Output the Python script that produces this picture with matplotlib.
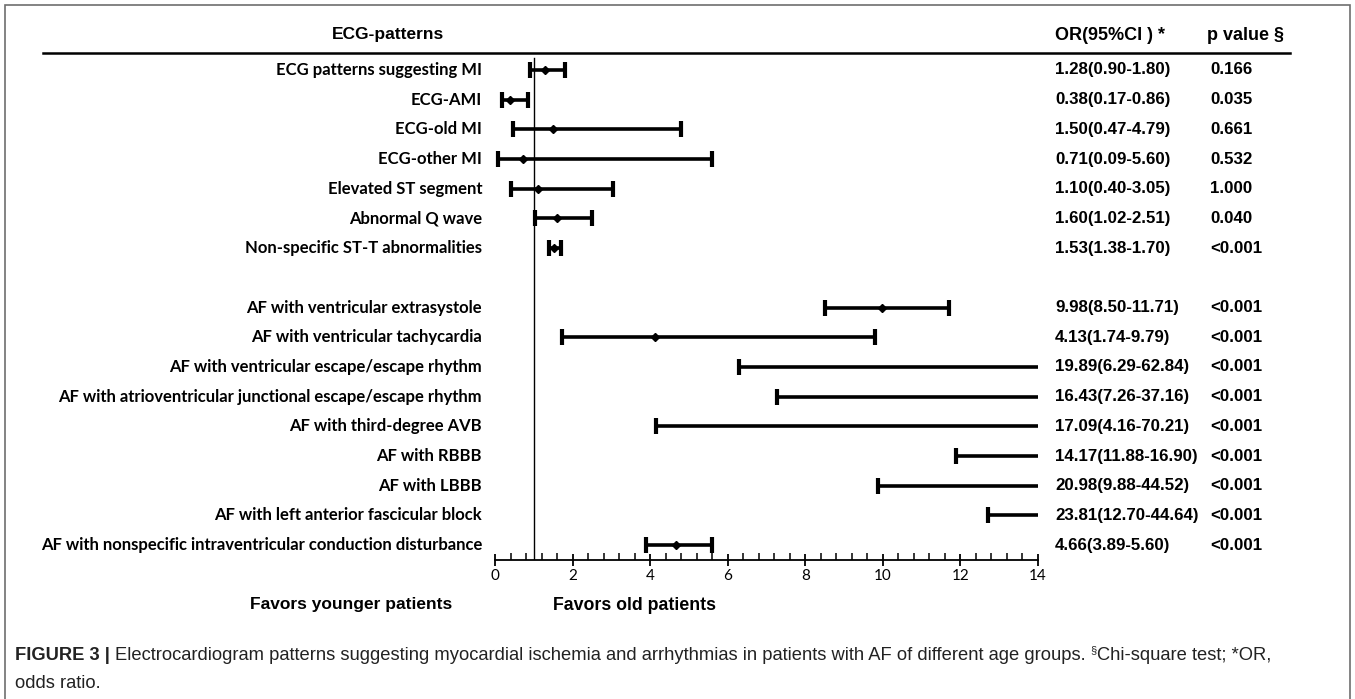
import matplotlib.pyplot as plt
from matplotlib.patches import Rectangle
from matplotlib.lines import Line2D
from matplotlib.transforms import blended_transform_factory

# ECG patterns, odds ratios and 95% CI
labels = [
    "ECG patterns suggesting MI",
    "ECG-AMI",
    "ECG-old MI",
    "ECG-other MI",
    "Elevated ST segment",
    "Abnormal Q wave",
    "Non-specific ST-T abnormalities",
    "AF with ventricular extrasystole",
    "AF with ventricular tachycardia",
    "AF with ventricular escape/escape rhythm",
    "AF with atrioventricular junctional escape/escape rhythm",
    "AF with third-degree AVB",
    "AF with RBBB",
    "AF with LBBB",
    "AF with left anterior fascicular block",
    "AF with nonspecific intraventricular conduction disturbance",
]
or_vals = [1.28, 0.38, 1.50, 0.71, 1.10, 1.60, 1.53,
           9.98, 4.13, 19.89, 16.43, 17.09, 14.17, 20.98, 23.81, 4.66]
ci_low = [0.90, 0.17, 0.47, 0.09, 0.40, 1.02, 1.38,
          8.50, 1.74, 6.29, 7.26, 4.16, 11.88, 9.88, 12.70, 3.89]
ci_high = [1.80, 0.86, 4.79, 5.60, 3.05, 2.51, 1.70,
           11.71, 9.79, 62.84, 37.16, 70.21, 16.90, 44.52, 44.64, 5.60]
p_vals = ["0.166", "0.035", "0.661", "0.532", "1.000", "0.040", "<0.001",
          "<0.001", "<0.001", "<0.001", "<0.001", "<0.001", "<0.001",
          "<0.001", "<0.001", "<0.001"]
# row slots: one blank slot between the two groups
rows = [0, 1, 2, 3, 4, 5, 6, 8, 9, 10, 11, 12, 13, 14, 15, 16]

X_MAX = 14
W, H = 1355, 699

label_font = ["Lato", "DejaVu Sans"]
arial = ["Liberation Sans", "DejaVu Sans"]


def fx(px):
    return px / W


def fy(py):
    return 1 - py / H


fig = plt.figure(figsize=(W / 100, H / 100), dpi=100)

# outer frame
fig.patches.append(Rectangle((fx(5), -0.02), fx(1345), fy(5) + 0.02,
                             transform=fig.transFigure, fill=False,
                             edgecolor="#6e6e6e", linewidth=1.2))

# forest plot axes
ax = fig.add_axes([fx(495), fy(560), fx(1038 - 495), (560 - 53) / H])
ax.set_xlim(0, X_MAX)
ax.set_ylim(16.5, -0.57)
for s in ["top", "right", "left"]:
    ax.spines[s].set_visible(False)
ax.spines["bottom"].set_linewidth(1.3)
ax.set_yticks([])
ax.set_xticks(range(0, 15, 2))
ax.set_xticks([i * 0.4 for i in range(36)], minor=True)
ax.tick_params(axis="x", which="major", direction="inout", length=9, width=1.3,
               labelsize=11, pad=2)
ax.tick_params(axis="x", which="minor", direction="in", length=5, width=1.1)
for t in ax.get_xticklabels():
    t.set_fontfamily(label_font)

# reference line at OR = 1
ax.axvline(1, ymin=0, ymax=(16.5 - (-0.4)) / (16.5 + 0.57), color="black", lw=1)

for r, o, lo, hi in zip(rows, or_vals, ci_low, ci_high):
    right = min(hi, X_MAX)
    ax.plot([lo, right], [r, r], color="black", lw=2.6, solid_capstyle="butt",
            clip_on=False)
    ax.plot([lo], [r], marker="|", markersize=11, mew=3, color="black", clip_on=False)
    if hi <= X_MAX:
        ax.plot([hi], [r], marker="|", markersize=11, mew=3, color="black",
                clip_on=False)
    if o <= X_MAX:
        ax.plot([o], [r], marker="D", markersize=4, color="black", clip_on=False)

tr = blended_transform_factory(fig.transFigure, ax.transData)
for r, lab, o, lo, hi, p in zip(rows, labels, or_vals, ci_low, ci_high, p_vals):
    ax.text(fx(482), r, lab, transform=tr, ha="right", va="center",
            fontsize=12, fontweight="bold", family=label_font)
    ax.text(fx(1055), r, f"{o:.2f}({lo:.2f}-{hi:.2f})", transform=tr,
            ha="left", va="center", fontsize=12.2, fontweight="bold", family=arial)
    ax.text(fx(1210), r, p, transform=tr, ha="left", va="center",
            fontsize=12.2, fontweight="bold", family=arial)

# header
fig.text(fx(388), fy(35), "ECG-patterns", ha="center", va="center",
         fontsize=12.5, fontweight="bold", family=arial)
fig.text(fx(1055), fy(35), "OR(95%CI ) *", ha="left", va="center",
         fontsize=13, fontweight="bold", family=arial)
fig.text(fx(1207), fy(35), "p value \u00a7", ha="left", va="center",
         fontsize=13, fontweight="bold", family=arial)
fig.add_artist(Line2D([fx(43), fx(1290)], [fy(53), fy(53)], color="black",
                      lw=1.8, transform=fig.transFigure))

# direction labels
fig.text(fx(452), fy(605), "Favors younger patients", ha="right", va="center",
         fontsize=12.5, fontweight="bold", family=arial)
fig.text(fx(553), fy(605), "Favors old patients", ha="left", va="center",
         fontsize=12.8, fontweight="bold", family=arial)

# caption
renderer = fig.canvas.get_renderer()
cap_size = 13.2
cap_color = "#222222"
t1 = fig.text(fx(15), fy(655), "FIGURE 3 |", ha="left", va="center",
              fontsize=cap_size, fontweight="bold", family=arial, color=cap_color)
x_next = t1.get_window_extent(renderer).x1 + 5
t2 = fig.text(x_next / W, fy(655),
              "Electrocardiogram patterns suggesting myocardial ischemia and "
              "arrhythmias in patients with AF of different age groups. ",
              ha="left", va="center", fontsize=cap_size, family=arial, color=cap_color)
x_next = t2.get_window_extent(renderer).x1
t3 = fig.text(x_next / W, fy(650), "\u00a7", ha="left", va="center",
              fontsize=cap_size * 0.6, family=arial, color=cap_color)
x_next = t3.get_window_extent(renderer).x1
fig.text(x_next / W, fy(655), "Chi-square test; *OR,", ha="left", va="center",
         fontsize=cap_size, family=arial, color=cap_color)
fig.text(fx(15), fy(683), "odds ratio.", ha="left", va="center",
         fontsize=cap_size, family=arial, color=cap_color)

fig.savefig("out.png", dpi=100)
